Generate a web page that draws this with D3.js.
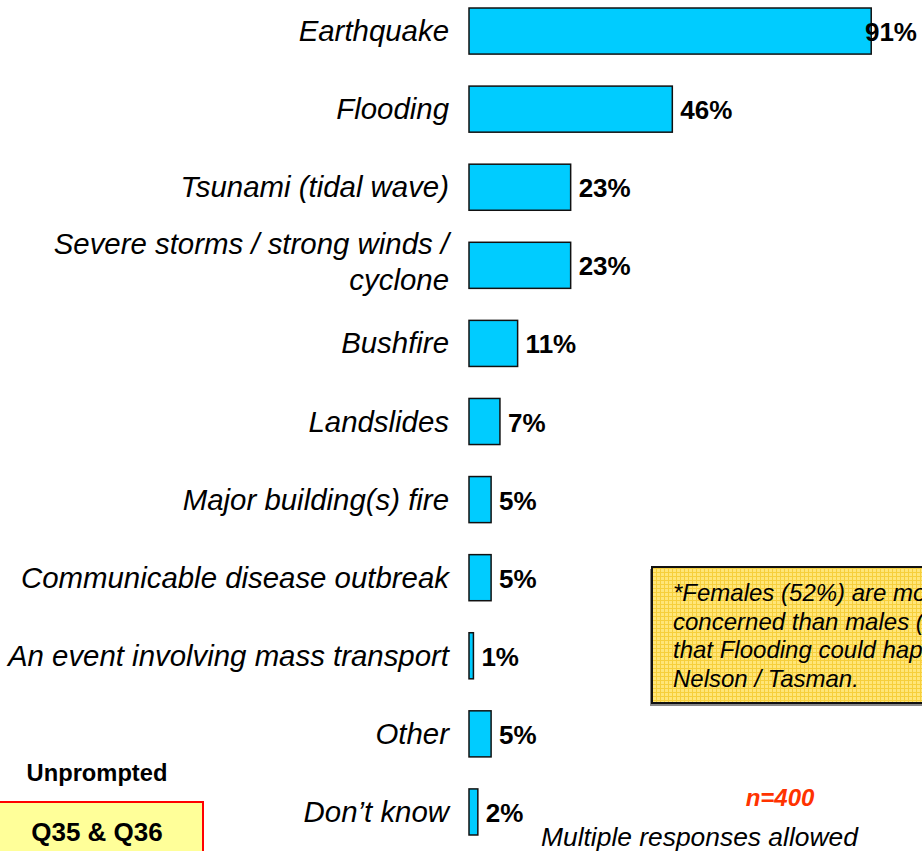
<!DOCTYPE html>
<html>
<head>
<meta charset="utf-8">
<style>
  body { margin: 0; background: #fff; }
  svg { display: block; font-family: "Liberation Sans", Arial, sans-serif; }
  .cat { font-size: 29.4px; font-style: italic; text-anchor: end; fill: #000; }
  .val { font-size: 26px; font-weight: bold; fill: #000; }
  .bar { fill: #00ccff; stroke: #111; stroke-width: 1.5; }
</style>
</head>
<body>
<svg id="chart" width="922" height="851"></svg>
<script src="https://cdn.jsdelivr.net/npm/d3@7"></script>
<script>
var categories = ["Earthquake", "Flooding", "Tsunami (tidal wave)",
  "Severe storms / strong winds / cyclone", "Bushfire", "Landslides",
  "Major building(s) fire", "Communicable disease outbreak",
  "An event involving mass transport", "Other", "Don\u2019t know"];
var values = [91, 46, 23, 23, 11, 7, 5, 5, 1, 5, 2];
var noteLines = ["*Females (52%) are more", "concerned than males (40%)",
  "that Flooding could happen in", "Nelson / Tasman."];

var svg = d3.select("#chart"),
    width = +svg.attr("width"),
    height = +svg.attr("height");

var x = d3.scaleLinear().domain([0, 100]).range([469, 911]);
var y = d3.scaleBand().domain(categories)
    .range([-8, 851]).paddingInner(0.41).paddingOuter(0.205);

// pattern for the note box
var defs = svg.append("defs");
var pat = defs.append("pattern").attr("id", "grid")
    .attr("width", 4).attr("height", 4).attr("patternUnits", "userSpaceOnUse");
pat.append("rect").attr("width", 4).attr("height", 4).attr("fill", "#ffe679");
pat.append("path").attr("d", "M0,0.5H4M0.5,0V4").attr("stroke", "#f6cf3c").attr("stroke-width", 1);

var rows = svg.selectAll(".row")
    .data(categories)
  .enter().append("g")
    .attr("class", "row");

rows.append("rect")
    .attr("class", "bar")
    .attr("x", x(0))
    .attr("y", function(d) { return y(d); })
    .attr("width", function(d, i) { return x(values[i]) - x(0); })
    .attr("height", y.bandwidth());

rows.append("text")
    .attr("class", "cat")
    .attr("x", 449)
    .attr("y", function(d) { return y(d) + y.bandwidth() / 2; })
    .each(function(d) {
      var t = d3.select(this);
      var lines = d.indexOf(" / cyclone") > 0 ? ["Severe storms / strong winds /", "cyclone"] : [d];
      var off = -(lines.length - 1) * 18 - (lines.length - 1) * 3;
      lines.forEach(function(l, k) {
        t.append("tspan").attr("x", 449).attr("dy", k == 0 ? (off + 10) + "px" : "36px").text(l);
      });
    });

rows.append("text")
    .attr("class", "val")
    .attr("y", function(d) { return y(d) + y.bandwidth() / 2 + 10; })
    .text(function(d, i) { return values[i] + "%"; })
    .each(function(d, i) {
      var t = d3.select(this);
      var w = this.getComputedTextLength();
      var px = x(values[i]) + 8;
      if (px + w > 917) px = 917 - w;
      t.attr("x", px);
    });

// note box
svg.append("rect").attr("x", 650).attr("y", 569).attr("width", 300).attr("height", 137).attr("fill", "#888");
svg.append("rect").attr("x", 652).attr("y", 567).attr("width", 300).attr("height", 136)
    .attr("fill", "url(#grid)").attr("stroke", "#111").attr("stroke-width", 2);
svg.append("g").selectAll("text").data(noteLines).enter().append("text")
    .attr("x", 673).attr("y", function(d, i) { return 601 + i * 28.5; })
    .style("font-size", "24px").style("font-style", "italic")
    .text(function(d) { return d; });

// bottom notes
svg.append("text").attr("x", 780).attr("y", 806).attr("text-anchor", "middle")
    .style("font-size", "24px").style("font-weight", "bold").style("font-style", "italic")
    .attr("fill", "#ff3300").text("n=400");
svg.append("text").attr("x", 541).attr("y", 846)
    .style("font-size", "26.4px").style("font-style", "italic").text("Multiple responses allowed");

svg.append("text").attr("x", 97).attr("y", 781).attr("text-anchor", "middle")
    .style("font-size", "23.7px").style("font-weight", "bold").text("Unprompted");
svg.append("rect").attr("x", -2).attr("y", 802).attr("width", 205).attr("height", 60)
    .attr("fill", "#ffff99").attr("stroke", "#ff0000").attr("stroke-width", 2);
svg.append("text").attr("x", 97).attr("y", 841).attr("text-anchor", "middle")
    .style("font-size", "26px").style("font-weight", "bold").text("Q35 & Q36");
</script>
</body>
</html>
